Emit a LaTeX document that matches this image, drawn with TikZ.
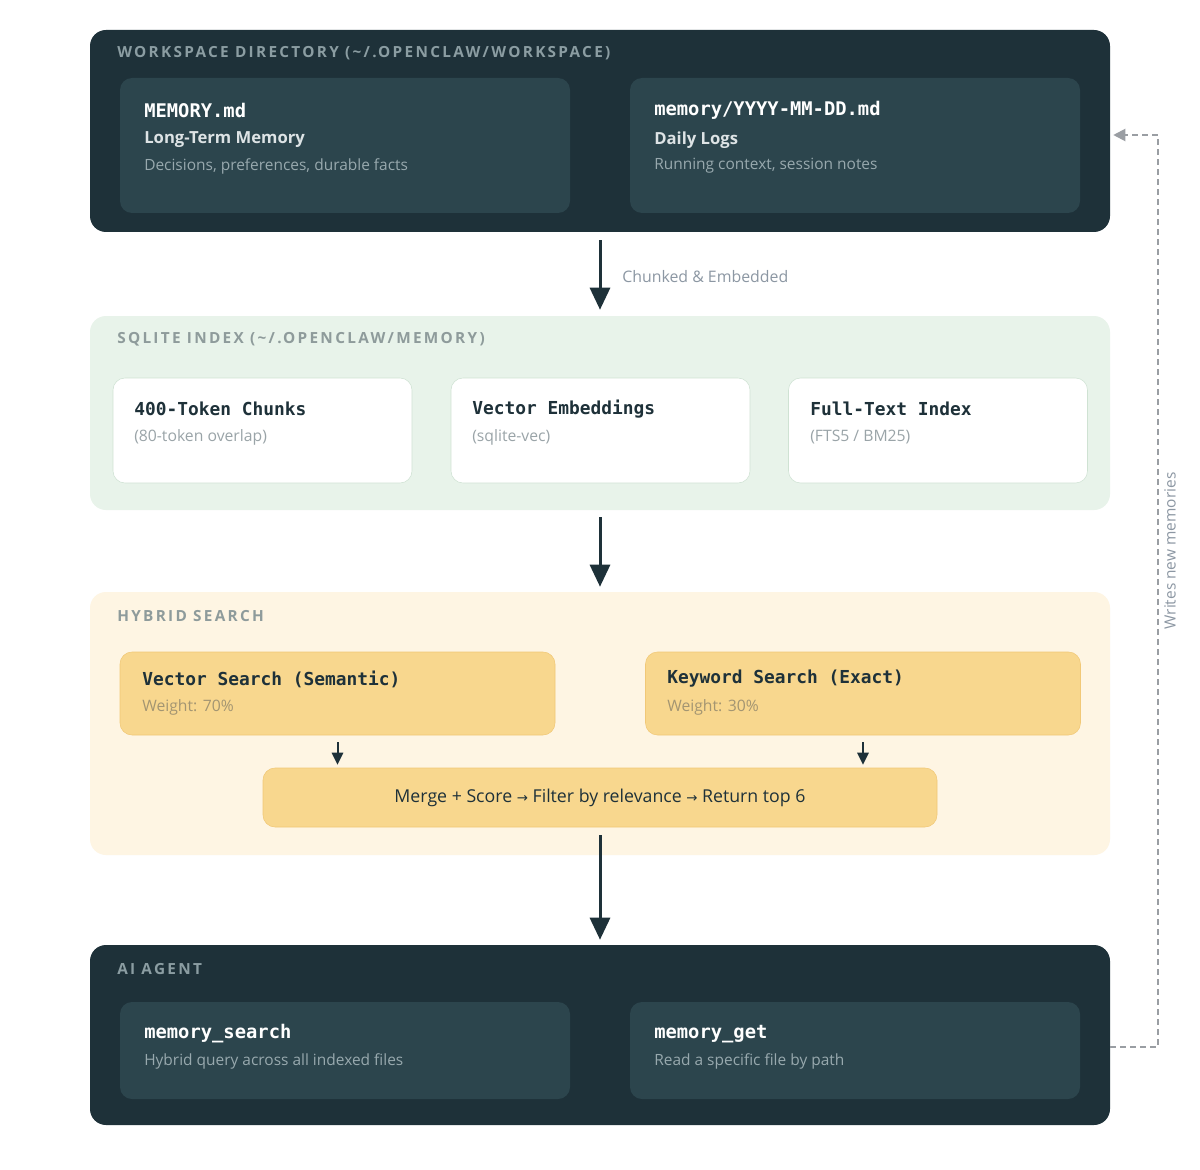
\documentclass[tikz,border=0pt]{standalone}
\usepackage{fontspec}
\setmainfont{Open Sans}
\setmonofont{DejaVu Sans Mono}
\newfontfamily\arrowfont{DejaVu Sans}
\usetikzlibrary{arrows.meta}

\definecolor{darkbg}{HTML}{1E3139}
\definecolor{darkcard}{HTML}{2C454D}
\definecolor{darkcap}{HTML}{8B9DA2}
\definecolor{darksub}{HTML}{DDE3E5}
\definecolor{darkdesc}{HTML}{98A9AE}
\definecolor{greenbg}{HTML}{E8F3EA}
\definecolor{greenline}{HTML}{CFE2D3}
\definecolor{lightcap}{HTML}{8E9B9B}
\definecolor{lightdesc}{HTML}{9AA4A8}
\definecolor{creambg}{HTML}{FEF5E3}
\definecolor{yellowcard}{HTML}{F8D78E}
\definecolor{yellowline}{HTML}{F1C877}
\definecolor{weightgray}{HTML}{A39572}
\definecolor{backgray}{HTML}{9A9EA3}
\definecolor{labelgray}{HTML}{8C97A3}

\newcommand{\rarr}{{\arrowfont\fontsize{10}{12}\selectfont →}}

\begin{document}
\begin{tikzpicture}[x=0.75pt, y=-0.75pt,
	layer/.style={rounded corners=12pt, inner sep=0pt, minimum width=765pt},
	card/.style={rounded corners=9pt, inner sep=0pt},
	caption/.style={anchor=west, inner sep=0pt, font=\fontsize{11.5}{13}\selectfont\bfseries\addfontfeature{LetterSpace=15}},
	filew/.style={anchor=west, inner sep=0pt, text=white, font=\fontsize{14.1}{16}\selectfont\ttfamily\bfseries},
	fileb/.style={anchor=west, inner sep=0pt, text=darkbg, font=\fontsize{13.4}{15}\selectfont\ttfamily\bfseries},
	subw/.style={anchor=west, inner sep=0pt, text=darksub, font=\fontsize{12.5}{14}\selectfont\bfseries},
	descw/.style={anchor=west, inner sep=0pt, text=darkdesc, font=\fontsize{11.6}{13}\selectfont},
	descb/.style={anchor=west, inner sep=0pt, font=\fontsize{11.8}{13}\selectfont},
	flow/.style={draw=darkbg, line width=2.25pt, -{Triangle[length=16.5pt, width=15pt]}},
	smallflow/.style={draw=darkbg, line width=1.5pt, -{Triangle[length=9pt, width=8.5pt]}},
	back/.style={draw=backgray, line width=1.5pt, dash pattern=on 4.5pt off 3pt, -{Triangle[length=9pt, width=9pt]}}]
	\useasboundingbox[fill=white] (0,0) rectangle (1200,1170);

	% workspace directory
	\node (ws) [layer, fill=darkbg, minimum height=151.5pt] at (600,131) {};
	\node (wsT) [caption, text=darkcap] at (117,53) {WORKSPACE DIRECTORY (\textasciitilde/.OPENCLAW/WORKSPACE)};
	\node (mem) [card, fill=darkcard, minimum width=337.5pt, minimum height=101.25pt] at (345,145.5) {};
	\node (day) [card, fill=darkcard, minimum width=337.5pt, minimum height=101.25pt] at (855,145.5) {};
	\node (memF) [filew] at (144,110) {MEMORY.md};
	\node (memS) [subw] at (144,140) {Long-Term Memory};
	\node (memD) [descw] at (144,166) {Decisions, preferences, durable facts};
	\node (dayF) [filew] at (654,110) {memory/YYYY-MM-DD.md};
	\node (dayS) [subw] at (654,140) {Daily Logs};
	\node (dayD) [descw] at (654,166) {Running context, session notes};

	% sqlite index
	\node (sq) [layer, fill=greenbg, minimum height=145.5pt] at (600,413) {};
	\node (sqT) [caption, text=lightcap] at (117,339) {SQLITE INDEX (\textasciitilde/.OPENCLAW/MEMORY)};
	\node (chk) [card, fill=white, draw=greenline, minimum width=224.25pt, minimum height=78.75pt] at (262.5,430.5) {};
	\node (emb) [card, fill=white, draw=greenline, minimum width=224.25pt, minimum height=78.75pt] at (600.5,430.5) {};
	\node (fts) [card, fill=white, draw=greenline, minimum width=224.25pt, minimum height=78.75pt] at (938,430.5) {};
	\node (chkF) [fileb] at (134,409) {400-Token Chunks};
	\node (chkD) [descb, text=lightdesc] at (134,437) {(80-token overlap)};
	\node (embF) [fileb] at (472,409) {Vector Embeddings};
	\node (embD) [descb, text=lightdesc] at (472,437) {(sqlite-vec)};
	\node (ftsF) [fileb] at (810,409) {Full-Text Index};
	\node (ftsD) [descb, text=lightdesc] at (810,437) {(FTS5 / BM25)};

	% hybrid search
	\node (hy) [layer, fill=creambg, minimum height=197.25pt] at (600,723.5) {};
	\node (hyT) [caption, text=lightcap] at (117,616) {HYBRID SEARCH};
	\node (vs) [card, fill=yellowcard, draw=yellowline, minimum width=326.25pt, minimum height=62.25pt] at (337.5,693.5) {};
	\node (ks) [card, fill=yellowcard, draw=yellowline, minimum width=326.25pt, minimum height=62.25pt] at (863,693.5) {};
	\node (vsF) [fileb] at (142,679) {Vector Search (Semantic)};
	\node (vsD) [descb, text=weightgray] at (142,707) {Weight: 70\%};
	\node (ksF) [fileb] at (667,679) {Keyword Search (Exact)};
	\node (ksD) [descb, text=weightgray] at (667,707) {Weight: 30\%};
	\node (mrg) [card, fill=yellowcard, draw=yellowline, minimum width=505.5pt, minimum height=44.25pt, text=darkbg, font=\fontsize{13.3}{15}\selectfont] at (600,797.5) {Merge + Score \rarr{} Filter by relevance \rarr{} Return top 6};

	% ai agent
	\node (ag) [layer, fill=darkbg, minimum height=135pt] at (600,1035) {};
	\node (agT) [caption, text=darkcap] at (117,969) {AI AGENT};
	\node (ms) [card, fill=darkcard, minimum width=337.5pt, minimum height=72.75pt] at (345,1050.5) {};
	\node (mg) [card, fill=darkcard, minimum width=337.5pt, minimum height=72.75pt] at (855,1050.5) {};
	\node (msF) [filew] at (144,1034) {memory\_search};
	\node (msD) [descw] at (144,1061) {Hybrid query across all indexed files};
	\node (mgF) [filew] at (654,1034) {memory\_get};
	\node (mgD) [descw] at (654,1061) {Read a specific file by path};

	% arrows
	\draw[flow, shorten <=6pt, shorten >=4.5pt] (ws) -- (sq);
	\node (lbl) [anchor=west, inner sep=0pt, text=labelgray, font=\fontsize{11.9}{13}\selectfont] at (622,277) {Chunked \& Embedded};
	\draw[flow, shorten <=5.25pt, shorten >=3.75pt] (sq) -- (hy);
	\draw[smallflow, shorten <=5.25pt, shorten >=2.25pt] (vs.south) -- (vs.south |- mrg.north);
	\draw[smallflow, shorten <=5.25pt, shorten >=2.25pt] (ks.south) -- (ks.south |- mrg.north);
	\draw[flow, shorten <=6pt, shorten >=3.75pt] (mrg) -- (ag);

	% writes back
	\coordinate (bR) at (1158,1047);
	\coordinate (tR) at (1158,135);
	\draw[back, shorten >=2.25pt] (ag.east |- bR) -- (bR) -- (tR) -- (ws.east |- tR);
	\node (wr) [rotate=90, inner sep=0pt, text=labelgray, font=\fontsize{11.6}{13}\selectfont] at (1170,551) {Writes new memories};
\end{tikzpicture}
\end{document}
